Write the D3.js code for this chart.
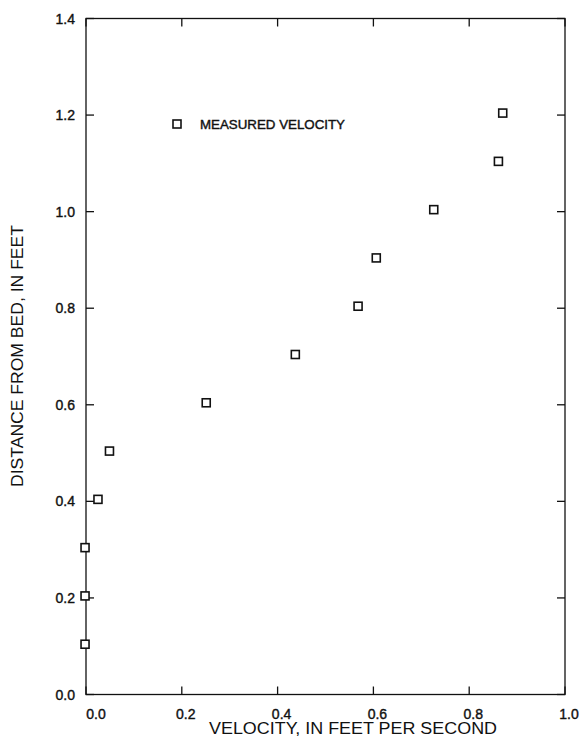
<!DOCTYPE html>
<html>
<head>
<meta charset="utf-8">
<script src="https://cdn.jsdelivr.net/npm/d3@7"></script>
<style>
  body { margin: 0; background: #fff; }
  text { font-family: "Liberation Sans", Arial, sans-serif; fill: #111; }
</style>
</head>
<body>
<div id="graphicContainer"></div>
<script>
// measured velocity profile
var depth    = [0.1, 0.2, 0.3, 0.4, 0.5, 0.6, 0.7, 0.8, 0.9, 1.0, 1.1, 1.2];
var velocity = [-0.002, -0.002, -0.002, 0.025, 0.049, 0.251, 0.437, 0.568, 0.606, 0.726, 0.861, 0.870];
var xTicks = [0.0, 0.2, 0.4, 0.6, 0.8, 1.0];
var yTicks = [0.0, 0.2, 0.4, 0.6, 0.8, 1.0, 1.2, 1.4];
var legendLabel = "MEASURED VELOCITY";
var xTitle = "VELOCITY, IN FEET PER SECOND";
var yTitle = "DISTANCE FROM BED, IN FEET";

var width = 581, height = 742;
var margin = {top: 18.5, right: 16, bottom: 47.5, left: 86};

var svg = d3.select("#graphicContainer").append("svg")
	.attr("width", width)
	.attr("height", height);

var x = d3.scaleLinear()
	.domain([0, 1])
	.range([margin.left, width - margin.right]);

var y = d3.scaleLinear()
	.domain([0, 1.4])
	.range([height - margin.bottom, margin.top]);

var tickLen = 8;

// frame
svg.append("rect")
	.attr("x", x(0))
	.attr("y", y(1.4))
	.attr("width", x(1) - x(0))
	.attr("height", y(0) - y(1.4))
	.attr("fill", "none")
	.attr("stroke", "#111")
	.attr("stroke-width", 1.3);

// inward ticks on all four sides
var ticks = svg.append("g").attr("stroke", "#111").attr("stroke-width", 1.3);

xTicks.forEach(function(t) {
	ticks.append("line").attr("x1", x(t)).attr("x2", x(t)).attr("y1", y(0)).attr("y2", y(0) - tickLen);
	ticks.append("line").attr("x1", x(t)).attr("x2", x(t)).attr("y1", y(1.4)).attr("y2", y(1.4) + tickLen);
});
yTicks.forEach(function(t) {
	ticks.append("line").attr("x1", x(0)).attr("x2", x(0) + tickLen).attr("y1", y(t)).attr("y2", y(t));
	ticks.append("line").attr("x1", x(1)).attr("x2", x(1) - tickLen).attr("y1", y(t)).attr("y2", y(t));
});

// tick labels
svg.append("g").selectAll("text")
	.data(xTicks)
	.enter().append("text")
	.attr("x", d => x(d) + (d == 0 ? 10 : 4))
	.attr("y", y(0) + 24)
	.attr("text-anchor", "middle")
	.style("font-size", "14px")
	.style("stroke", "#111").style("stroke-width", 0.4)
	.text(d => d.toFixed(1));

svg.append("g").selectAll("text")
	.data(yTicks)
	.enter().append("text")
	.attr("x", x(0) - 11)
	.attr("y", d => y(d) + 5)
	.attr("text-anchor", "end")
	.style("font-size", "14px")
	.style("stroke", "#111").style("stroke-width", 0.4)
	.text(d => d.toFixed(1));

// axis titles
svg.append("text")
	.attr("x", 353)
	.attr("y", 734)
	.attr("text-anchor", "middle")
	.attr("textLength", 288)
	.attr("lengthAdjust", "spacingAndGlyphs")
	.style("font-size", "16px")
	.text(xTitle);

svg.append("text")
	.attr("transform", "translate(23,356) rotate(-90)")
	.attr("text-anchor", "middle")
	.attr("textLength", 262)
	.attr("lengthAdjust", "spacingAndGlyphs")
	.style("font-size", "16px")
	.text(yTitle);

// data points
var sq = 8;
svg.append("g").selectAll("rect")
	.data(depth.map((d, i) => ({depth: d, velocity: velocity[i]})))
	.enter().append("rect")
	.attr("x", d => x(d.velocity) - sq / 2)
	.attr("y", d => y(d.depth) - sq / 2 - 2)
	.attr("width", sq)
	.attr("height", sq)
	.attr("fill", "#fff")
	.attr("stroke", "#111")
	.attr("stroke-width", 1.6);

// legend
svg.append("rect")
	.attr("x", 177 - sq / 2)
	.attr("y", 124 - sq / 2)
	.attr("width", sq)
	.attr("height", sq)
	.attr("fill", "#fff")
	.attr("stroke", "#111")
	.attr("stroke-width", 1.6);

svg.append("text")
	.attr("x", 200)
	.attr("y", 129)
	.attr("textLength", 145)
	.attr("lengthAdjust", "spacingAndGlyphs")
	.style("font-size", "13px")
	.style("stroke", "#111").style("stroke-width", 0.4)
	.text(legendLabel);
</script>
</body>
</html>
